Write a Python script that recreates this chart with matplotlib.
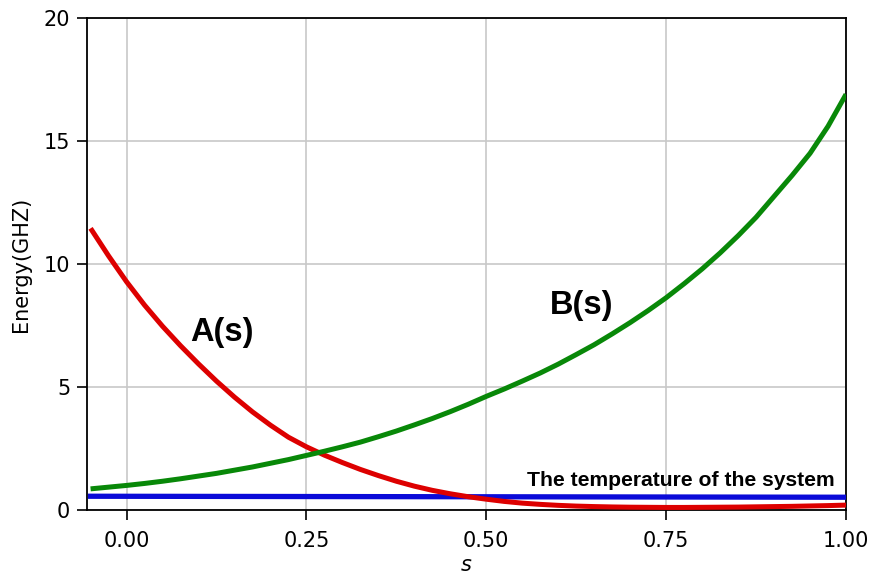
import matplotlib
matplotlib.use("Agg")
import matplotlib.pyplot as plt
from matplotlib.ticker import FormatStrFormatter

# Annealing schedule sampled along s
s_vals = [-0.050, -0.025, 0.000, 0.025, 0.050, 0.075, 0.100, 0.125, 0.150,
          0.175, 0.200, 0.225, 0.250, 0.275, 0.300, 0.325, 0.350, 0.375,
          0.400, 0.425, 0.450, 0.475, 0.500, 0.525, 0.550, 0.575, 0.600,
          0.625, 0.650, 0.675, 0.700, 0.725, 0.750, 0.775, 0.800, 0.825,
          0.850, 0.875, 0.900, 0.925, 0.950, 0.975, 1.000]
A_vals = [11.45, 10.33, 9.28, 8.33, 7.47, 6.68, 5.94, 5.24, 4.59,
          3.99, 3.45, 2.96, 2.57, 2.23, 1.93, 1.65, 1.40, 1.17,
          0.97, 0.80, 0.66, 0.54, 0.44, 0.35, 0.28, 0.23, 0.19,
          0.16, 0.14, 0.125, 0.115, 0.11, 0.105, 0.105, 0.11, 0.115,
          0.12, 0.13, 0.14, 0.15, 0.165, 0.18, 0.20]
B_vals = [0.86, 0.93, 1.00, 1.08, 1.17, 1.27, 1.38, 1.49, 1.62,
          1.75, 1.90, 2.05, 2.22, 2.39, 2.57, 2.76, 2.98, 3.21,
          3.46, 3.72, 4.00, 4.30, 4.62, 4.92, 5.24, 5.57, 5.93,
          6.32, 6.72, 7.16, 7.62, 8.11, 8.63, 9.20, 9.80, 10.45,
          11.15, 11.90, 12.75, 13.60, 14.50, 15.60, 16.90]
temp_s = [-0.05, 1.00]
temp_vals = [0.56, 0.52]

x_ticks = [0.0, 0.25, 0.5, 0.75, 1.0]
y_ticks = [0, 5, 10, 15, 20]

fig = plt.figure(figsize=(8.75, 5.75), dpi=100)
ax = fig.add_axes([0.0994, 0.113, 0.8675, 0.8557])

ax.grid(True, color="#c8c8c8", linewidth=1.2, zorder=0)
ax.set_axisbelow(True)

ax.plot(temp_s, temp_vals, color="#0a0ad8", linewidth=3.8, zorder=3)
ax.plot(s_vals, A_vals, color="#dd0000", linewidth=3.6, zorder=4,
        solid_capstyle="butt")
ax.plot(s_vals, B_vals, color="#088808", linewidth=3.6, zorder=5,
        solid_capstyle="butt")

bold = dict(family=["Liberation Sans", "DejaVu Sans"], fontweight="bold")
ax.text(0.133, 7.2, "A(s)", fontsize=23.5, ha="center", va="center", **bold)
ax.text(0.633, 8.3, "B(s)", fontsize=23.5, ha="center", va="center", **bold)
ax.text(0.984, 0.80, "The temperature of the system", fontsize=15.2,
        ha="right", va="bottom", **bold)

ax.set_xlim(-0.055, 1.0)
ax.set_ylim(0, 20)
ax.set_xticks(x_ticks)
ax.set_yticks(y_ticks)
ax.xaxis.set_major_formatter(FormatStrFormatter("%.2f"))
ax.tick_params(labelsize=15, length=7, width=1.2)
ax.tick_params(axis="x", pad=8)
ax.tick_params(axis="y", pad=5)
for sp in ax.spines.values():
    sp.set_linewidth(1.3)

ax.set_xlabel("$s$", fontsize=15, labelpad=3)
ax.set_ylabel("Energy(GHZ)", fontsize=15, labelpad=9)

fig.savefig("out.png", dpi=100)
